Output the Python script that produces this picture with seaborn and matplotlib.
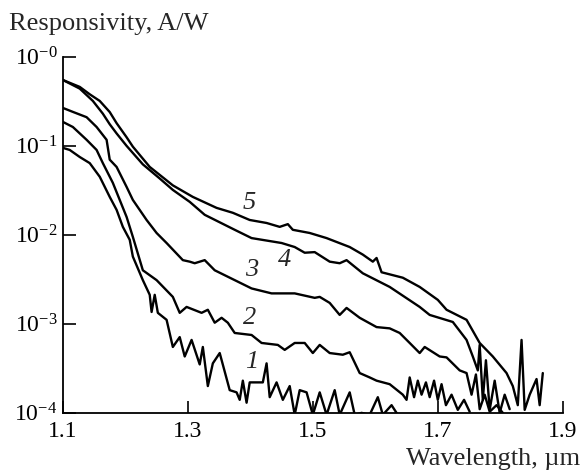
import numpy as np
import pandas as pd
import matplotlib
matplotlib.use("Agg")
import matplotlib.pyplot as plt
import seaborn as sns
from matplotlib.ticker import FixedLocator, NullLocator

# ---- data (wavelength in um, responsivity in A/W) ----
x5 = [1.100, 1.127, 1.143, 1.159, 1.175, 1.186, 1.202, 1.212, 1.239, 1.276, 1.308, 1.346, 1.372,
      1.399, 1.426, 1.447, 1.460, 1.468, 1.495, 1.522, 1.559, 1.580, 1.596, 1.602,
      1.610, 1.644, 1.671, 1.700, 1.714, 1.746, 1.767, 1.788, 1.810, 1.820, 1.828,
      1.834, 1.839, 1.847, 1.858, 1.863, 1.868]
y5 = [0.55, 0.46, 0.38, 0.32, 0.24, 0.18, 0.125, 0.098, 0.058, 0.036, 0.0267, 0.0201, 0.0177,
      0.0147, 0.0136, 0.0123, 0.0132, 0.0114, 0.0105, 0.0092, 0.0073, 0.0060, 0.0050, 0.0055,
      0.0038, 0.0033, 0.0026, 0.00186, 0.00144, 0.00111, 0.00061, 0.00043, 0.00028, 0.00020, 0.000122,
      0.00066, 0.000108, 0.00016, 0.00024, 0.000122, 0.00028]

x4 = [1.100, 1.127, 1.148, 1.164, 1.175, 1.186, 1.202, 1.228, 1.255, 1.276, 1.303, 1.327,
      1.375, 1.402, 1.450, 1.471, 1.487, 1.503, 1.527, 1.543, 1.554, 1.580, 1.623,
      1.671, 1.687, 1.724, 1.746, 1.756, 1.764, 1.767, 1.772, 1.777, 1.783, 1.791,
      1.799, 1.807, 1.815]
y4 = [0.55, 0.44, 0.32, 0.23, 0.175, 0.138, 0.100, 0.062, 0.043, 0.032, 0.0235, 0.0168,
      0.0114, 0.0092, 0.0081, 0.0073, 0.0063, 0.0064, 0.0050, 0.0048, 0.0052, 0.0037, 0.0026,
      0.00155, 0.00126, 0.00105, 0.00066, 0.00043, 0.00030, 0.00058, 0.00014, 0.00039, 0.000108, 0.00023,
      0.0001, 0.00016, 0.00011]

x3 = [1.100, 1.116, 1.138, 1.154, 1.170, 1.175, 1.186, 1.202, 1.212, 1.234, 1.250,
      1.266, 1.292, 1.303, 1.311, 1.327, 1.343, 1.375, 1.402, 1.434, 1.471, 1.503,
      1.511, 1.527, 1.543, 1.554, 1.575, 1.602, 1.623, 1.639, 1.655, 1.671, 1.679,
      1.703, 1.714, 1.735, 1.746, 1.754, 1.761, 1.767, 1.775, 1.783, 1.794, 1.804]
y3 = [0.267, 0.241, 0.21, 0.163, 0.117, 0.070, 0.058, 0.0346, 0.0247, 0.0147, 0.0105,
      0.0081, 0.0052, 0.0050, 0.0048, 0.0052, 0.0040, 0.0031, 0.0025, 0.0022, 0.0022, 0.00196,
      0.00201, 0.00172, 0.00126, 0.00151, 0.00117, 0.00092, 0.00089, 0.00079, 0.00061, 0.00047, 0.00055,
      0.00043, 0.00042, 0.00030, 0.00028, 0.00016, 0.00027, 0.00011, 0.00016, 0.000103, 0.000122, 0.0001]

x2 = [1.100, 1.116, 1.138, 1.154, 1.164, 1.180, 1.191, 1.202, 1.212, 1.228, 1.250,
      1.276, 1.287, 1.298, 1.322, 1.332, 1.343, 1.354, 1.364, 1.375, 1.402, 1.418,
      1.444, 1.455, 1.471, 1.487, 1.500, 1.511, 1.527, 1.548, 1.559, 1.575, 1.591,
      1.602, 1.623, 1.644, 1.650, 1.655, 1.662, 1.668, 1.674, 1.681, 1.687, 1.694,
      1.700, 1.706, 1.713, 1.722, 1.732, 1.742, 1.751]
y2 = [0.186, 0.163, 0.117, 0.090, 0.064, 0.0384, 0.0247, 0.0159, 0.0095, 0.0040, 0.0031,
      0.00201, 0.00133, 0.00155, 0.00133, 0.00144, 0.00103, 0.00117, 0.00103, 0.00079, 0.00075, 0.00061,
      0.00058, 0.00051, 0.00061, 0.00061, 0.00047, 0.00058, 0.00047, 0.00045, 0.00048, 0.00028, 0.00025,
      0.00023, 0.00021, 0.00016, 0.00014, 0.00025, 0.00015, 0.00023, 0.00016, 0.00022, 0.00015, 0.00023,
      0.00014, 0.00021, 0.000122, 0.00016, 0.000108, 0.00014, 0.000103]

x1 = [1.100, 1.111, 1.127, 1.143, 1.159, 1.175, 1.186, 1.196, 1.207, 1.212, 1.228,
      1.239, 1.242, 1.247, 1.252, 1.266, 1.276, 1.287, 1.295, 1.306, 1.319, 1.324,
      1.332, 1.340, 1.351, 1.367, 1.378, 1.383, 1.388, 1.394, 1.399, 1.420, 1.426,
      1.431, 1.442, 1.452, 1.463, 1.471, 1.479, 1.490, 1.500, 1.511, 1.522, 1.535,
      1.543, 1.559, 1.567, 1.578, 1.591, 1.604, 1.612, 1.626, 1.636, 1.655]
y1 = [0.095, 0.090, 0.075, 0.064, 0.045, 0.0267, 0.0191, 0.0123, 0.0088, 0.0057, 0.0031,
      0.00212, 0.00136, 0.00212, 0.00133, 0.00111, 0.00055, 0.00071, 0.00043, 0.00066, 0.00035, 0.00055,
      0.00020, 0.00036, 0.00047, 0.00018, 0.00017, 0.00014, 0.00023, 0.00013, 0.00022, 0.00022, 0.00036,
      0.00015, 0.00022, 0.00014, 0.00020, 0.000095, 0.00018, 0.00017, 0.000095, 0.00017, 0.000095, 0.00018,
      0.000095, 0.00017, 0.000095, 0.0001, 0.000095, 0.00015, 0.000095, 0.000122, 0.000095, 0.000095]

curve_names = ["1", "2", "3", "4", "5"]
label_x = [1.402, 1.399, 1.402, 1.455, 1.399]
label_y = [0.00037, 0.00117, 0.0040, 0.0052, 0.0229]

x_ticks = [1.1, 1.3, 1.5, 1.7, 1.9]
y_ticks = [1e-4, 1e-3, 1e-2, 1e-1, 1e0]
y_tick_labels = ["$10^{-4}$", "$10^{-3}$", "$10^{-2}$", "$10^{-1}$", "$10^{-0}$"]

frames = []
for name, xs, ys in zip(curve_names, [x1, x2, x3, x4, x5], [y1, y2, y3, y4, y5]):
    frames.append(pd.DataFrame({"wl": xs, "resp": ys, "curve": name}))
df = pd.concat(frames, ignore_index=True)

sns.set_theme(style="ticks")
plt.rcParams["font.family"] = ["Liberation Serif", "DejaVu Serif"]
plt.rcParams["mathtext.fontset"] = "custom"
plt.rcParams["mathtext.rm"] = "Liberation Serif"
plt.rcParams["mathtext.it"] = "Liberation Serif:italic"
plt.rcParams["xtick.direction"] = "in"
plt.rcParams["ytick.direction"] = "in"

fig = plt.figure(figsize=(5.82, 4.74), dpi=100)
ax = fig.add_axes([0.108, 0.129, 0.859, 0.751])

sns.lineplot(data=df, x="wl", y="resp", hue="curve", units="curve", estimator=None,
             sort=False, palette=["black"] * 5, linewidth=1.7, legend=False, ax=ax)

ax.set_yscale("log")
ax.set_xlim(1.1, 1.9)
ax.set_ylim(1e-4, 1e0)

ax.xaxis.set_major_locator(FixedLocator(x_ticks))
ax.set_xticklabels([f"{t:.1f}" for t in x_ticks])
ax.yaxis.set_major_locator(FixedLocator(y_ticks))
ax.yaxis.set_minor_locator(NullLocator())
ax.set_yticklabels(y_tick_labels)

ax.tick_params(axis="both", which="both", direction="in", length=9, width=1.2,
               colors="black")
ax.tick_params(axis="x", labelsize=17, pad=6)
ax.tick_params(axis="y", labelsize=17, pad=4)
for s in ["top", "right"]:
    ax.spines[s].set_visible(False)
for s in ["left", "bottom"]:
    ax.spines[s].set_linewidth(1.3)
    ax.spines[s].set_color("black")

ax.set_xlabel("")
ax.set_ylabel("")
fig.text(0.015, 0.972, "Responsivity, A/W", ha="left", va="top", fontsize=19)
fig.text(0.997, 0.008, "Wavelength, \u00b5m", ha="right", va="bottom", fontsize=19)

for name, lx, ly in zip(curve_names, label_x, label_y):
    ax.text(lx, ly, name, fontsize=19, style="italic", ha="center", va="center")

fig.savefig("out.png", dpi=100)
